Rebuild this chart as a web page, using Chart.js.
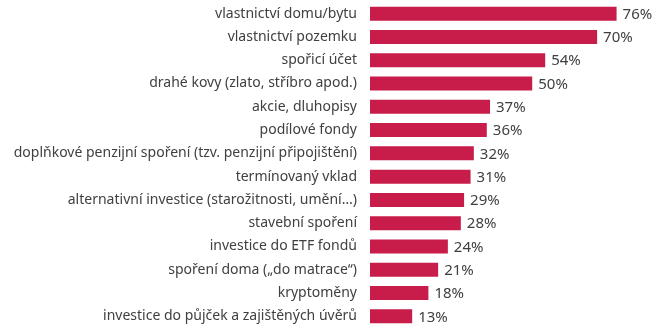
<!DOCTYPE html>
<html>
<head>
<meta charset="utf-8">
<script src="https://cdn.jsdelivr.net/npm/chart.js@4"></script>
<style>
  html, body { margin: 0; padding: 0; background: #fff; }
  #wrap { width: 665px; height: 335px; }
</style>
</head>
<body>
<div id="wrap"><canvas id="chart"></canvas></div>
<script>
// Kategorie a hodnoty (v %)
const categories = [
    'vlastnictví domu/bytu',
    'vlastnictví pozemku',
    'spořicí účet',
    'drahé kovy (zlato, stříbro apod.)',
    'akcie, dluhopisy',
    'podílové fondy',
    'doplňkové penzijní spoření (tzv. penzijní připojištění)',
    'termínovaný vklad',
    'alternativní investice (starožitnosti, umění…)',
    'stavební spoření',
    'investice do ETF fondů',
    'spoření doma („do matrace“)',
    'kryptoměny',
    'investice do půjček a zajištěných úvěrů'
];
const values = [76, 70, 54, 50, 37, 36, 32, 31, 29, 28, 24, 21, 18, 13];

const barColor = '#c81d4a';
const textColor = '#404040';
const fontFamily = "'Noto Sans', 'Liberation Sans', Arial, sans-serif";
const fontSize = 14;

// Popisky hodnot vpravo od sloupců
const valueLabels = {
    id: 'valueLabels',
    afterDatasetsDraw(chart) {
        const ctx = chart.ctx;
        const meta = chart.getDatasetMeta(0);
        ctx.save();
        ctx.font = '15px ' + fontFamily;
        ctx.fillStyle = textColor;
        ctx.textAlign = 'left';
        ctx.textBaseline = 'middle';
        meta.data.forEach((bar, i) => {
            ctx.fillText(values[i] + '%', bar.x + 6, bar.y + 1);
        });
        ctx.restore();
    }
};

new Chart(document.getElementById('chart'), {
    type: 'bar',
    data: {
        labels: categories,
        datasets: [{
            data: values,
            backgroundColor: barColor,
            borderWidth: 0,
            barPercentage: 0.6,
            categoryPercentage: 1
        }]
    },
    options: {
        indexAxis: 'y',
        responsive: true,
        maintainAspectRatio: false,
        animation: false,
        layout: { padding: { top: 2, bottom: 7, left: 0, right: 3 } },
        plugins: {
            legend: { display: false },
            tooltip: { enabled: false }
        },
        scales: {
            x: {
                min: 0,
                max: 90,
                display: false
            },
            y: {
                grid: {
                    display: true,
                    drawOnChartArea: false,
                    drawTicks: true,
                    tickLength: 13,
                    color: 'rgba(0,0,0,0)'
                },
                border: { display: false },
                afterFit(scale) { scale.width = 370; },
                ticks: {
                    color: textColor,
                    padding: 0,
                    font: { family: fontFamily, size: fontSize, lineHeight: 0.25 }
                }
            }
        }
    },
    plugins: [valueLabels]
});
</script>
</body>
</html>
